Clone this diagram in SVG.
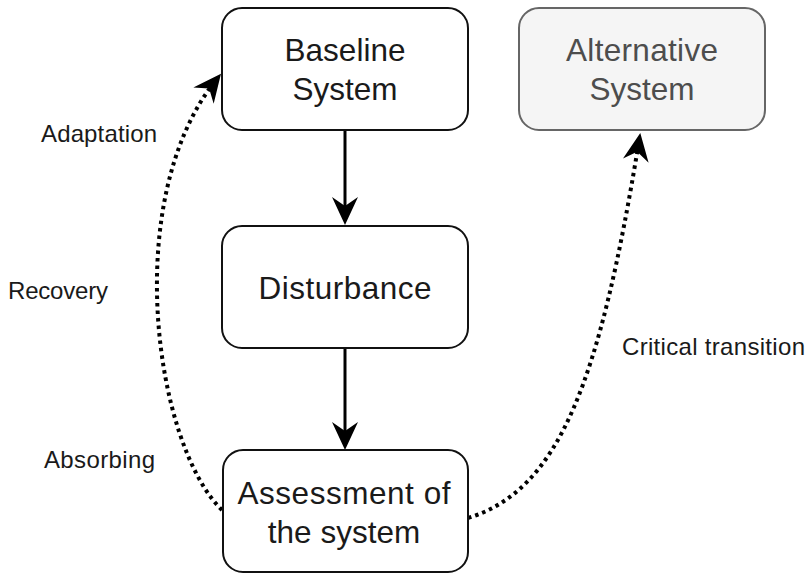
<svg xmlns="http://www.w3.org/2000/svg" width="811" height="573" viewBox="0 0 811 573">
<style>
.box{fill:#fff;stroke:#111;stroke-width:2}
.alt{fill:#f5f5f5;stroke:#666;stroke-width:2}
.t{font-family:"Liberation Sans",Arial,sans-serif;font-size:31.5px;fill:#1a1a1a;text-anchor:middle}
.ta{fill:#4d4d4d}
.lbl{font-family:"Liberation Sans",Arial,sans-serif;font-size:24px;fill:#1a1a1a}
.solid{fill:none;stroke:#000;stroke-width:3}
.dot{fill:none;stroke:#000;stroke-width:4;stroke-dasharray:3.5 4}
</style>
<defs>
<marker id="ah" viewBox="0 0 28 26" refX="20" refY="13" markerWidth="28" markerHeight="26" markerUnits="userSpaceOnUse" orient="auto">
<path d="M0,0 L28,13 L0,26 L9,13 Z" fill="#000"/>
</marker>
</defs>
<g id="connectors">
<path class="solid" d="M345,130 L345,217" marker-end="url(#ah)"/>
<path class="solid" d="M345,348 L345,442" marker-end="url(#ah)"/>
<path class="dot" d="M222,510 C155,445 120,200 216,80" marker-end="url(#ah)"/>
<path class="dot" d="M468,518 C560,490 600,380 639,141" marker-end="url(#ah)"/>
</g>
<g id="baseline">
<rect class="box" x="222" y="8" width="246" height="122" rx="20"/>
<text class="t" x="345" y="61" textLength="121">Baseline</text>
<text class="t" x="345" y="100">System</text>
</g>
<g id="alternative">
<rect class="alt" x="519" y="8" width="246" height="122" rx="20"/>
<text class="t ta" x="642" y="61" textLength="152">Alternative</text>
<text class="t ta" x="642" y="100">System</text>
</g>
<g id="disturbance">
<rect class="box" x="222" y="226" width="246" height="122" rx="20"/>
<text class="t" x="345" y="299" textLength="173">Disturbance</text>
</g>
<g id="assessment">
<rect class="box" x="223" y="450" width="245" height="122" rx="20"/>
<text class="t" x="344" y="504" textLength="213">Assessment of</text>
<text class="t" x="344" y="543">the system</text>
</g>
<g id="labels">
<text class="lbl" x="41" y="142" textLength="116">Adaptation</text>
<text class="lbl" x="8" y="299" textLength="100">Recovery</text>
<text class="lbl" x="44" y="468" textLength="111">Absorbing</text>
<text class="lbl" x="622" y="355" textLength="183">Critical transition</text>
</g>
</svg>
